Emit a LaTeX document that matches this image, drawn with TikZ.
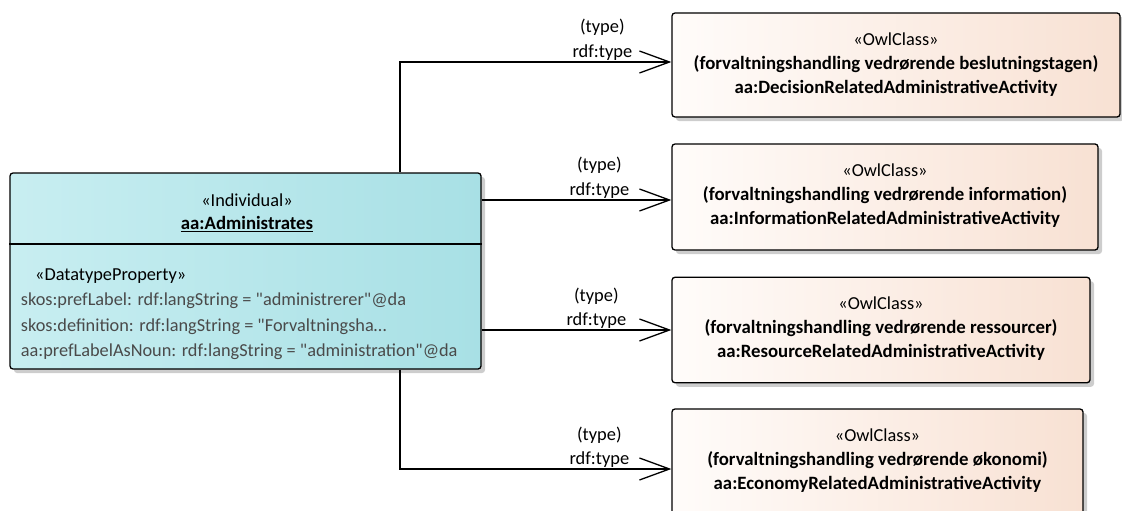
\documentclass[tikz,border=0pt]{standalone}
\usepackage{fontspec}
\setmainfont{Carlito}[Ligatures=TeXOff]
\usetikzlibrary{arrows.meta,shadows}
\definecolor{indleft}{HTML}{C8EEF1}
\definecolor{indright}{HTML}{A8E0E5}
\definecolor{clsleft}{HTML}{FFFCFA}
\definecolor{clsright}{HTML}{F8E1D3}
\definecolor{attrgray}{HTML}{4A4A4A}
\definecolor{shadowgray}{HTML}{CDCDCD}
\newcommand{\bigbf}[1]{{\fontsize{18.8}{24}\selectfont\bfseries #1}}
\begin{document}
\begin{tikzpicture}[x=1pt,y=-1pt,
  font=\fontsize{18.3}{24}\selectfont,
  umlbox/.style={draw=black, line width=1.3pt, rounded corners=3pt, inner sep=0pt,
    drop shadow={shadow xshift=4pt, shadow yshift=-4pt, fill=shadowgray, opacity=1}},
  indbox/.style={umlbox, left color=indleft, right color=indright},
  clsbox/.style={umlbox, left color=clsleft, right color=clsright},
  boxtext/.style={inner sep=0pt, align=center},
  attr/.style={inner sep=0pt, anchor=west, text=attrgray},
  rel/.style={draw=black, line width=1.3pt, -{Straight Barb[length=30pt,width=22pt]}},
  lbl/.style={inner sep=0pt, align=center, font=\fontsize{18.4}{24.5}\selectfont}
]
\useasboundingbox (0,0) rectangle (1122,511);

% the individual
\node[indbox, minimum width=471pt, minimum height=196pt] (ind) at (245.5,271) {};
\draw[line width=1.3pt] (ind.west |- 0,244) -- (ind.east |- 0,244);
\node[boxtext] (indst) at (247,200) {«Individual»};
\node[boxtext] (indname) at (247,224) {\underline{\bigbf{aa:Administrates}}};
\node[inner sep=0pt, anchor=west] (dtp) at (35,276) {«DatatypeProperty»};
\node[attr] (a1) at (20.7,301) {skos:prefLabel: rdf:langString = "administrerer"@da};
\node[attr] (a2) at (20.7,326.5) {skos:definition: rdf:langString = "Forvaltningsha…};
\node[attr] (a3) at (20.7,351.5) {aa:prefLabelAsNoun: rdf:langString = "administration"@da};

% the classes
\node[clsbox, minimum width=448pt, minimum height=104pt] (c1) at (896,65) {};
\node[clsbox, minimum width=426pt, minimum height=106pt] (c2) at (885,197) {};
\node[clsbox, minimum width=418pt, minimum height=105.5pt] (c3) at (881,330) {};
\node[clsbox, minimum width=411pt, minimum height=120pt] (c4) at (877.5,469) {};

\node[boxtext, below=20pt] (t1) at (c1.north) {«OwlClass»\\ \bigbf{(forvaltningshandling vedrørende beslutningstagen)}\\ \bigbf{aa:DecisionRelatedAdministrativeActivity}};
\node[boxtext, below=20pt] (t2) at (c2.north) {«OwlClass»\\ \bigbf{(forvaltningshandling vedrørende information)}\\ \bigbf{aa:InformationRelatedAdministrativeActivity}};
\node[boxtext, below=20pt] (t3) at (c3.north) {«OwlClass»\\ \bigbf{(forvaltningshandling vedrørende ressourcer)}\\ \bigbf{aa:ResourceRelatedAdministrativeActivity}};
\node[boxtext, below=20pt] (t4) at (c4.north) {«OwlClass»\\ \bigbf{(forvaltningshandling vedrørende økonomi)}\\ \bigbf{aa:EconomyRelatedAdministrativeActivity}};

% rdf:type links
\coordinate (vx) at (400,0);
\draw[rel] (ind.north -| vx) |- ([yshift=3pt]c1.west)
  node[lbl, pos=1, xshift=-69pt, yshift=22pt] {(type)\\rdf:type};
\draw[rel] ([yshift=-3pt]ind.east |- c2.west) -- ([yshift=-3pt]c2.west)
  node[lbl, pos=1, xshift=-72pt, yshift=22pt] {(type)\\rdf:type};
\draw[rel] (ind.east |- c3.west) -- (c3.west)
  node[lbl, pos=1, xshift=-75pt, yshift=22pt] {(type)\\rdf:type};
\draw[rel] (ind.south -| vx) |- (c4.west)
  node[lbl, pos=1, xshift=-72pt, yshift=22pt] {(type)\\rdf:type};
\end{tikzpicture}
\end{document}
